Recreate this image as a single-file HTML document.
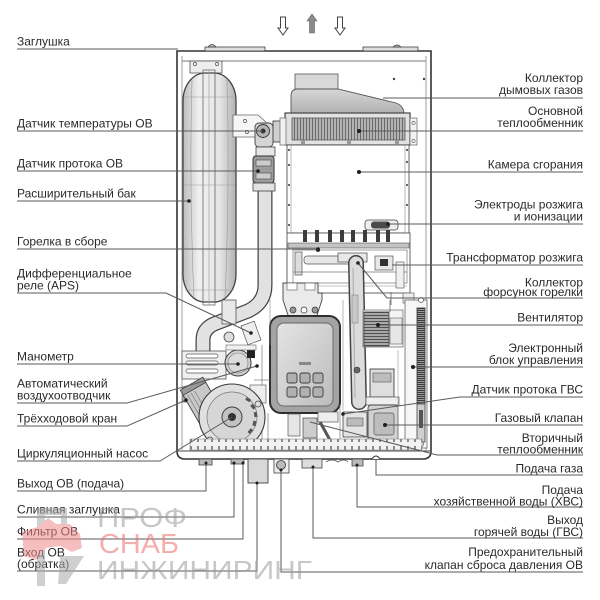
<!DOCTYPE html>
<html><head><meta charset="utf-8">
<style>
html,body{margin:0;padding:0;background:#fff;}
svg{display:block;}
text{font-family:"Liberation Sans",Arial,sans-serif;font-size:12px;fill:#2a2a2a;}
.wm{font-family:"Liberation Sans",Arial,sans-serif;}
</style></head><body>
<svg width="600" height="600" viewBox="0 0 600 600" xmlns="http://www.w3.org/2000/svg">
<defs>
 <linearGradient id="tank" x1="0" x2="1" y1="0" y2="0">
  <stop offset="0" stop-color="#bdbdbd"/><stop offset="0.3" stop-color="#f0f0f0"/><stop offset="0.7" stop-color="#e4e4e4"/><stop offset="1" stop-color="#b2b2b2"/>
 </linearGradient>
 <linearGradient id="hood" x1="0" x2="0" y1="0" y2="1">
  <stop offset="0" stop-color="#d6d6d6"/><stop offset="1" stop-color="#b0b0b0"/>
 </linearGradient>
 <linearGradient id="panel" x1="0" x2="1" y1="0" y2="1">
  <stop offset="0" stop-color="#e4e4e4"/><stop offset="1" stop-color="#bcbcbc"/>
 </linearGradient>
 <pattern id="fins" width="3" height="10" patternUnits="userSpaceOnUse">
  <rect width="3" height="10" fill="#b4b4b4"/><rect width="1" height="10" fill="#6a6a6a"/>
 </pattern>
 <pattern id="hatch" width="10" height="3" patternUnits="userSpaceOnUse">
  <rect width="10" height="3" fill="#a8a8a8"/><rect width="10" height="1" fill="#505050"/>
 </pattern>
 <pattern id="hatch2" width="8" height="2" patternUnits="userSpaceOnUse">
  <rect width="8" height="2" fill="#9a9a9a"/><rect width="8" height="1" fill="#3a3a3a"/>
 </pattern>
 <pattern id="ticks" width="7" height="12" patternUnits="userSpaceOnUse">
  <rect width="7" height="12" fill="#f2f2f2"/><rect x="1" y="2" width="2" height="8" fill="#8a8a8a"/>
 </pattern>
</defs>

<!-- top arrows -->
<path d="M280.5,17 H285.5 V28 H288 L283,35 L278,28 H280.5 Z" fill="#fff" stroke="#444" stroke-width="1"/>
<path d="M337.5,17 H342.5 V28 H345 L340,35 L335,28 H337.5 Z" fill="#fff" stroke="#444" stroke-width="1"/>
<path d="M309.5,33 V21 H307 L312,14 L317,21 H314.5 V33 Z" fill="#8a8a8a" stroke="#666" stroke-width="0.6"/>

<!-- casing -->
<path d="M177,51 H431 V451 Q431,459 423,459 H185 Q177,459 177,451 Z" fill="#fff" stroke="#333" stroke-width="1.6"/>
<line x1="182" y1="61" x2="426" y2="61" stroke="#777" stroke-width="0.9"/>
<line x1="182" y1="56" x2="182" y2="450" stroke="#888" stroke-width="0.8"/>
<line x1="426" y1="56" x2="426" y2="450" stroke="#888" stroke-width="0.8"/>
<line x1="178" y1="451" x2="430" y2="451" stroke="#444" stroke-width="1"/>
<rect x="205" y="47" width="60" height="4" fill="#ddd" stroke="#444" stroke-width="0.8"/>
<path d="M208,47 Q212,42 216,47 Z" fill="#bbb" stroke="#444" stroke-width="0.8"/>
<rect x="363" y="47" width="55" height="4" fill="#ddd" stroke="#444" stroke-width="0.8"/>
<path d="M393,47 Q397,43 401,47 Z" fill="#bbb" stroke="#444" stroke-width="0.8"/>
<circle cx="394" cy="79" r="1.2" fill="#444"/><circle cx="424" cy="79" r="1.2" fill="#444"/>

<!-- expansion tank -->
<rect x="190" y="61" width="32" height="12" fill="#eee" stroke="#555" stroke-width="0.8"/>
<circle cx="195" cy="64" r="1.6" fill="none" stroke="#555" stroke-width="0.7"/>
<circle cx="217" cy="64" r="1.6" fill="none" stroke="#555" stroke-width="0.7"/>
<rect x="183" y="73" width="53" height="229" rx="22" ry="28" fill="url(#tank)" stroke="#444" stroke-width="1.3"/>
<rect x="203" y="70" width="12" height="235" fill="none" stroke="#666" stroke-width="0.8"/>
<line x1="209" y1="70" x2="209" y2="305" stroke="#999" stroke-width="0.6"/>
<line x1="184" y1="97" x2="235" y2="97" stroke="#999" stroke-width="0.6"/>
<line x1="184" y1="185" x2="235" y2="185" stroke="#999" stroke-width="0.6"/>
<line x1="185" y1="290" x2="234" y2="290" stroke="#999" stroke-width="0.6"/>
<path d="M192,80 Q189,190 194,298" fill="none" stroke="#999" stroke-width="0.6"/>
<path d="M227,80 Q230,190 225,298" fill="none" stroke="#999" stroke-width="0.6"/>

<!-- bracket & elbow & flow sensor OV -->
<path d="M233,115 H258 L268,124 V137 H233 Z" fill="#f6f6f6" stroke="#666" stroke-width="0.8"/>
<circle cx="245" cy="121" r="1.6" fill="none" stroke="#555" stroke-width="0.7"/>
<circle cx="247" cy="132" r="1.6" fill="none" stroke="#555" stroke-width="0.7"/>
<path d="M265,186 V285 Q265,303 248,311 L214,324 Q203,329 203,340 V352" fill="none" stroke="#444" stroke-width="15"/>
<path d="M265,186 V285 Q265,303 248,311 L214,324 Q203,329 203,340 V352" fill="none" stroke="#e2e2e2" stroke-width="12.5"/>
<rect x="222" y="300" width="14" height="24" fill="#e8e8e8" stroke="#555" stroke-width="0.8"/>
<rect x="273" y="121" width="13" height="21" fill="#cfcfcf" stroke="#444" stroke-width="0.9"/>
<rect x="255" y="123" width="18" height="24" rx="4" fill="#d4d4d4" stroke="#444" stroke-width="0.9"/>
<circle cx="263" cy="131" r="6.5" fill="#b4b4b4" stroke="#333" stroke-width="0.9"/>
<circle cx="263" cy="131" r="2.5" fill="#333"/>
<rect x="256" y="147" width="19" height="9" fill="#e6e6e6" stroke="#444" stroke-width="0.8"/>
<rect x="253" y="156" width="21" height="27" rx="3" fill="#9c9c9c" stroke="#333" stroke-width="1"/>
<rect x="256" y="160" width="15" height="6" fill="#ccc" stroke="#444" stroke-width="0.6"/>
<rect x="256" y="173" width="15" height="6" fill="#ccc" stroke="#444" stroke-width="0.6"/>
<rect x="253" y="183" width="22" height="8" fill="#e2e2e2" stroke="#444" stroke-width="0.8"/>

<!-- flue hood & heat exchanger -->
<rect x="295" y="74" width="43" height="15" fill="#d8d8d8" stroke="#555" stroke-width="0.8"/>
<path d="M291,114 V96 Q291,89 298,89 H338 L396,103 Q404,106 404,114 Z" fill="url(#hood)" stroke="#555" stroke-width="0.9"/>
<rect x="285" y="113" width="125" height="32" fill="#e2e2e2" stroke="#444" stroke-width="1.2"/>
<rect x="292" y="118" width="113" height="22" fill="url(#fins)" stroke="#555" stroke-width="0.8"/>
<rect x="280" y="118" width="6" height="27" fill="#f2f2f2" stroke="#666" stroke-width="0.7"/>
<rect x="410" y="118" width="7" height="27" fill="#f2f2f2" stroke="#666" stroke-width="0.7"/>
<circle cx="413.5" cy="123" r="1.6" fill="none" stroke="#555" stroke-width="0.6"/>
<circle cx="413.5" cy="141" r="1.6" fill="none" stroke="#555" stroke-width="0.6"/>
<rect x="301" y="140" width="4" height="4" fill="#999"/><rect x="347" y="140" width="4" height="4" fill="#999"/><rect x="395" y="140" width="4" height="4" fill="#999"/>

<!-- combustion chamber -->
<rect x="287" y="145" width="122" height="88" fill="#fff" stroke="#555" stroke-width="0.9"/>
<line x1="291" y1="145" x2="291" y2="233" stroke="#888" stroke-width="0.6"/>
<line x1="405" y1="145" x2="405" y2="233" stroke="#888" stroke-width="0.6"/>
<g fill="#555">
<circle cx="289" cy="150" r="1.1"/><circle cx="289" cy="165" r="1.1"/><circle cx="289" cy="185" r="1.1"/><circle cx="289" cy="205" r="1.1"/><circle cx="289" cy="225" r="1.1"/>
<circle cx="407" cy="150" r="1.1"/><circle cx="407" cy="162" r="1.1"/><circle cx="407" cy="185" r="1.1"/><circle cx="407" cy="205" r="1.1"/>
</g>
<rect x="365" y="220" width="33" height="10" rx="3" fill="#eee" stroke="#444" stroke-width="0.8"/>
<rect x="371" y="221.5" width="19" height="7" rx="3" fill="#4a4a4a"/>

<!-- burner -->
<rect x="287" y="233" width="123" height="60" fill="#fff" stroke="#555" stroke-width="0.9"/>
<g fill="#3c3c3c">
<rect x="303" y="230" width="4" height="12"/><rect x="315" y="230" width="4" height="12"/><rect x="328" y="230" width="4" height="12"/><rect x="340" y="230" width="4" height="12"/><rect x="351" y="230" width="4" height="12"/><rect x="363" y="230" width="4" height="12"/><rect x="376" y="230" width="4" height="12"/><rect x="386" y="230" width="4" height="12"/>
</g>
<rect x="288" y="243" width="121" height="5" fill="#c4c4c4" stroke="#555" stroke-width="0.6"/>
<rect x="293" y="250" width="114" height="33" fill="none" stroke="#777" stroke-width="0.7"/>
<rect x="295" y="252" width="7" height="23" fill="#ddd" stroke="#555" stroke-width="0.7"/>
<rect x="304" y="256" width="48" height="8" rx="3" fill="#e6e6e6" stroke="#555" stroke-width="0.7"/>
<circle cx="318" cy="250" r="2" fill="#333"/>
<line x1="293" y1="272" x2="407" y2="272" stroke="#777" stroke-width="0.7"/>
<line x1="293" y1="286" x2="407" y2="286" stroke="#888" stroke-width="0.6"/>
<rect x="375" y="256" width="18" height="14" fill="#e8e8e8" stroke="#555" stroke-width="0.7"/>
<rect x="380" y="259" width="8" height="7" fill="#333"/>
<rect x="396" y="262" width="8" height="26" fill="#f0f0f0" stroke="#666" stroke-width="0.7"/>
<line x1="391" y1="292" x2="391" y2="305" stroke="#666" stroke-width="0.8"/>
<rect x="403" y="293" width="11" height="10" fill="#eee" stroke="#666" stroke-width="0.7"/>

<!-- control panel bracket -->
<path d="M283,283 H318 V293 H322 V300 L316,318 H289 L283,300 Z" fill="#eaeaea" stroke="#444" stroke-width="0.9"/>
<rect x="287" y="283" width="10" height="7" fill="#fff" stroke="#555" stroke-width="0.6"/>
<rect x="305" y="283" width="10" height="7" fill="#fff" stroke="#555" stroke-width="0.6"/>
<circle cx="293" cy="310" r="3" fill="#999" stroke="#333" stroke-width="0.7"/>
<circle cx="304" cy="310" r="3" fill="#fff" stroke="#333" stroke-width="0.7"/>
<circle cx="315" cy="310" r="3" fill="#999" stroke="#333" stroke-width="0.7"/>

<!-- control panel -->
<rect x="270" y="316" width="70" height="97" rx="11" fill="#a4a4a4" stroke="#2e2e2e" stroke-width="2"/>
<rect x="277" y="323" width="56" height="83" rx="7" fill="url(#panel)" stroke="#666" stroke-width="0.9"/>
<rect x="299" y="362" width="12" height="3" fill="#888"/>
<g fill="#b0b0b0" stroke="#3c3c3c" stroke-width="0.9">
<rect x="287" y="373" width="10" height="10" rx="2"/><rect x="300" y="373" width="10" height="10" rx="2"/><rect x="313" y="373" width="10" height="10" rx="2"/>
<rect x="287" y="387" width="10" height="10" rx="2"/><rect x="300" y="387" width="10" height="10" rx="2"/><rect x="313" y="387" width="10" height="10" rx="2"/>
</g>

<!-- slanted vertical pipe -->
<path d="M338,253 H367 V262 H338 Z" fill="#e8e8e8" stroke="#555" stroke-width="0.8"/>
<line x1="356" y1="263" x2="359" y2="402" stroke="#444" stroke-width="16" stroke-linecap="round"/>
<line x1="356" y1="263" x2="359" y2="402" stroke="#dcdcdc" stroke-width="13" stroke-linecap="round"/>
<line x1="353" y1="268" x2="355" y2="398" stroke="#aaa" stroke-width="1"/>
<circle cx="357" cy="370" r="3" fill="#666" stroke="#333" stroke-width="0.6"/>
<rect x="352" y="295" width="6" height="28" fill="#c8c8c8" stroke="#777" stroke-width="0.5"/>

<!-- fan -->
<rect x="363" y="310" width="40" height="37" fill="#f4f4f4" stroke="#666" stroke-width="0.7"/>
<rect x="364" y="312" width="25" height="34" fill="url(#hatch)" stroke="#444" stroke-width="0.8"/>
<rect x="390" y="318" width="12" height="26" fill="#e6e6e6" stroke="#666" stroke-width="0.6"/>
<line x1="390" y1="300" x2="390" y2="312" stroke="#666" stroke-width="0.8"/>

<!-- right board -->
<rect x="405" y="300" width="22" height="148" fill="#f6f6f6" stroke="#666" stroke-width="0.8"/>
<rect x="417" y="308" width="8" height="96" fill="url(#hatch2)" stroke="#333" stroke-width="0.8"/>
<rect x="417" y="404" width="8" height="38" fill="#cfcfcf" stroke="#444" stroke-width="0.8"/>
<rect x="419" y="410" width="4" height="18" fill="#555"/>
<circle cx="421" cy="300" r="2.5" fill="#fff" stroke="#555" stroke-width="0.7"/>
<circle cx="421" cy="444" r="2.5" fill="#fff" stroke="#555" stroke-width="0.7"/>

<!-- gas valve -->
<rect x="370" y="369" width="24" height="28" fill="#dedede" stroke="#444" stroke-width="0.9"/>
<rect x="373" y="373" width="18" height="9" fill="#bdbdbd" stroke="#555" stroke-width="0.6"/>
<rect x="366" y="397" width="33" height="8" fill="#eee" stroke="#555" stroke-width="0.7"/>
<rect x="368" y="405" width="30" height="40" rx="3" fill="#d2d2d2" stroke="#444" stroke-width="0.9"/>
<rect x="374" y="413" width="20" height="22" rx="2" fill="#bdbdbd" stroke="#555" stroke-width="0.7"/>
<rect x="343" y="412" width="24" height="25" fill="#e4e4e4" stroke="#444" stroke-width="0.8"/>
<rect x="347" y="418" width="16" height="8" fill="#bbb" stroke="#555" stroke-width="0.6"/>

<!-- manometer -->
<rect x="182" y="351" width="44" height="28" fill="#efefef" stroke="#555" stroke-width="0.8"/>
<rect x="186" y="354" width="32" height="4" rx="2" fill="#fff" stroke="#555" stroke-width="0.7"/>
<rect x="186" y="361" width="32" height="4" rx="2" fill="#fff" stroke="#555" stroke-width="0.7"/>
<rect x="186" y="369" width="32" height="4" rx="2" fill="#fff" stroke="#555" stroke-width="0.7"/>
<circle cx="238" cy="363" r="13" fill="#cfcfcf" stroke="#3a3a3a" stroke-width="1"/>
<circle cx="238" cy="363" r="10" fill="#dcdcdc" stroke="#777" stroke-width="0.6"/>
<rect x="247" y="350" width="8" height="8" fill="#222"/>
<rect x="226" y="345" width="30" height="5" fill="#f0f0f0" stroke="#666" stroke-width="0.6"/>
<circle cx="229" cy="337" r="5" fill="#ddd" stroke="#444" stroke-width="0.8"/>
<rect x="244" y="323" width="14" height="20" fill="#eee" stroke="#555" stroke-width="0.7" transform="rotate(-20 251 333)"/>

<!-- misc lower area -->
<line x1="262" y1="345" x2="262" y2="448" stroke="#777" stroke-width="0.7"/>
<line x1="268" y1="413" x2="268" y2="448" stroke="#777" stroke-width="0.7"/>
<line x1="340" y1="405" x2="340" y2="448" stroke="#777" stroke-width="0.7"/>
<line x1="254" y1="380" x2="270" y2="380" stroke="#777" stroke-width="0.7"/>
<line x1="270" y1="300" x2="270" y2="345" stroke="#888" stroke-width="0.6"/>
<line x1="343" y1="300" x2="343" y2="410" stroke="#888" stroke-width="0.6"/>
<line x1="398" y1="350" x2="398" y2="448" stroke="#999" stroke-width="0.6"/>
<rect x="250" y="385" width="16" height="18" fill="#eee" stroke="#666" stroke-width="0.7"/>
<rect x="288" y="414" width="12" height="22" fill="#e6e6e6" stroke="#555" stroke-width="0.7"/>
<rect x="303" y="418" width="14" height="20" fill="#ccc" stroke="#444" stroke-width="0.7"/>
<rect x="318" y="412" width="20" height="10" fill="#eee" stroke="#555" stroke-width="0.7"/>
<line x1="320" y1="422" x2="330" y2="440" stroke="#555" stroke-width="3"/>
<rect x="183" y="388" width="7" height="14" fill="#ddd" stroke="#444" stroke-width="0.7"/>

<!-- pump -->
<g transform="rotate(-30 205 407)">
<rect x="192" y="385" width="26" height="44" rx="2" fill="#c8c8c8" stroke="#3a3a3a" stroke-width="0.9"/>
<line x1="196" y1="388" x2="196" y2="426" stroke="#777" stroke-width="0.6"/>
<line x1="200" y1="388" x2="200" y2="426" stroke="#777" stroke-width="0.6"/>
<line x1="204" y1="388" x2="204" y2="426" stroke="#777" stroke-width="0.6"/>
<rect x="192" y="380" width="26" height="6" fill="#999" stroke="#333" stroke-width="0.7"/>
</g>
<circle cx="232" cy="417" r="33" fill="#e0e0e0" stroke="#3a3a3a" stroke-width="1.1"/>
<circle cx="232" cy="417" r="25" fill="#d6d6d6" stroke="#777" stroke-width="0.7"/>
<circle cx="232" cy="417" r="10" fill="#c2c2c2" stroke="#333" stroke-width="0.9"/>
<circle cx="232" cy="417" r="4" fill="#333"/>
<g fill="#555">
<rect x="246" y="398" width="5" height="3" transform="rotate(30 248 399)"/>
<rect x="251" y="405" width="5" height="3" transform="rotate(50 253 406)"/>
<rect x="254" y="413" width="5" height="3" transform="rotate(80 256 414)"/>
<rect x="253" y="422" width="5" height="3" transform="rotate(100 255 423)"/>
<rect x="249" y="430" width="5" height="3" transform="rotate(130 251 431)"/>
</g>
<circle cx="258" cy="404" r="3" fill="#ddd" stroke="#444" stroke-width="0.7"/>
<circle cx="210" cy="440" r="3" fill="#ddd" stroke="#444" stroke-width="0.7"/>

<!-- bottom parts row -->
<rect x="190" y="439" width="232" height="11" fill="url(#ticks)" stroke="#888" stroke-width="0.6"/>

<!-- bottom fittings -->
<rect x="199" y="459" width="13" height="6" fill="#bbb" stroke="#444" stroke-width="0.8"/>
<rect x="231" y="459" width="13" height="5" fill="#bbb" stroke="#444" stroke-width="0.8"/>
<rect x="248" y="459" width="20" height="24" fill="#d8d8d8" stroke="#444" stroke-width="0.9"/>
<rect x="274" y="459" width="15" height="14" fill="#eee" stroke="#444" stroke-width="0.8"/>
<circle cx="281" cy="465" r="4.5" fill="#bbb" stroke="#333" stroke-width="0.8"/>
<rect x="302" y="459" width="20" height="9" fill="#ddd" stroke="#444" stroke-width="0.8"/>
<path d="M326,462 Q332,458 338,462 Q344,458 348,462" fill="none" stroke="#555" stroke-width="0.8"/>
<rect x="352" y="459" width="11" height="7" fill="#bbb" stroke="#444" stroke-width="0.8"/>
<path d="M372,459 Q376,453 380,459" fill="#fff" stroke="#333" stroke-width="1"/>

<!-- connector lines -->
<g stroke="#5a5a5a" stroke-width="1" fill="none">
<polyline points="17,49 178,49"/>
<polyline points="17,131 263,131"/>
<polyline points="17,171 258,171"/>
<polyline points="17,201 189,201"/>
<polyline points="17,249 318,249"/>
<polyline points="17,293 166,293 251,333"/>
<polyline points="17,364 238,364"/>
<polyline points="17,403 127,403 257,366"/>
<polyline points="17,426 127,426 186,400"/>
<polyline points="17,461 160,461 232,417"/>
<polyline points="17,491 206,491 206,463"/>
<polyline points="17,517 234,517 234,463"/>
<polyline points="17,539 243,539 243,463"/>
<polyline points="17,571 257,571 257,483"/>
<polyline points="281,470 281,572 583,572"/>
<polyline points="313,467 313,538 583,538"/>
<polyline points="357,465 357,507 583,507"/>
<polyline points="376,459 376,475 583,475"/>
<polyline points="310,422 437,455 583,455"/>
<polyline points="343,414 460,397 583,397"/>
<polyline points="385,425 583,425"/>
<polyline points="413,367 583,367"/>
<polyline points="378,325 583,325"/>
<polyline points="358,263 387,298 583,298"/>
<polyline points="392,265 583,265"/>
<polyline points="388,224 583,224"/>
<polyline points="359,172 583,172"/>
<polyline points="359,131 583,131"/>
<polyline points="383,98 583,98"/>
</g>
<g fill="#1e1e1e">
<circle cx="189" cy="201" r="1.8"/><circle cx="258" cy="171" r="1.8"/><circle cx="318" cy="249" r="1.8"/>
<circle cx="238" cy="364" r="1.8"/><circle cx="257" cy="366" r="1.8"/><circle cx="186" cy="400" r="1.8"/>
<circle cx="206" cy="463" r="1.5"/><circle cx="234" cy="463" r="1.5"/><circle cx="243" cy="463" r="1.5"/><circle cx="257" cy="483" r="1.5"/>
<circle cx="313" cy="467" r="1.5"/><circle cx="357" cy="465" r="1.5"/><circle cx="281" cy="470" r="1.5"/>
<circle cx="359" cy="131" r="2"/><circle cx="359" cy="172" r="2"/><circle cx="388" cy="224" r="1.8"/>
<circle cx="358" cy="263" r="1.8"/><circle cx="378" cy="325" r="2"/><circle cx="413" cy="367" r="2"/><circle cx="385" cy="425" r="2"/>
<circle cx="343" cy="414" r="1.8"/><circle cx="251" cy="333" r="1.8"/>
</g>

<!-- left labels -->
<text x="17" y="45.5">Заглушка</text>
<text x="17" y="127.5">Датчик температуры ОВ</text>
<text x="17" y="167.5">Датчик протока ОВ</text>
<text x="17" y="197.5">Расширительный бак</text>
<text x="17" y="245.5">Горелка в сборе</text>
<text x="17" y="277.5">Дифференциальное</text>
<text x="17" y="289.5">реле (APS)</text>
<text x="17" y="360.5">Манометр</text>
<text x="17" y="387.5">Автоматический</text>
<text x="17" y="399.5">воздухоотводчик</text>
<text x="17" y="422.5">Трёхходовой кран</text>
<text x="17" y="457.5">Циркуляционный насос</text>
<text x="17" y="487.5">Выход ОВ (подача)</text>
<text x="17" y="513.5">Сливная заглушка</text>
<text x="17" y="535.5">Фильтр ОВ</text>
<text x="17" y="556.5">Вход ОВ</text>
<text x="17" y="568">(обратка)</text>

<!-- right labels -->
<g text-anchor="end">
<text x="583" y="82">Коллектор</text>
<text x="583" y="94">дымовых газов</text>
<text x="583" y="115">Основной</text>
<text x="583" y="127">теплообменник</text>
<text x="583" y="168.5">Камера сгорания</text>
<text x="583" y="208.5">Электроды розжига</text>
<text x="583" y="220.5">и ионизации</text>
<text x="583" y="261.5">Трансформатор розжига</text>
<text x="583" y="286.5">Коллектор</text>
<text x="583" y="296">форсунок горелки</text>
<text x="583" y="321.5">Вентилятор</text>
<text x="583" y="352">Электронный</text>
<text x="583" y="364">блок управления</text>
<text x="583" y="393.5">Датчик протока ГВС</text>
<text x="583" y="422">Газовый клапан</text>
<text x="583" y="442">Вторичный</text>
<text x="583" y="453.5">теплообменник</text>
<text x="583" y="472.5">Подача газа</text>
<text x="583" y="494">Подача</text>
<text x="583" y="505.5">хозяйственной воды (ХВС)</text>
<text x="583" y="524">Выход</text>
<text x="583" y="536">горячей воды (ГВС)</text>
<text x="583" y="556">Предохранительный</text>
<text x="583" y="569">клапан сброса давления ОВ</text>
</g>

<!-- watermark -->
<g opacity="0.55">
<rect x="37" y="508" width="8" height="78" fill="#a8a8a8"/>
<rect x="37" y="508" width="30" height="7" fill="#a8a8a8"/>
<rect x="61" y="508" width="6" height="22" fill="#a8a8a8"/>
<path d="M60,556 L84,556 L66,584 L58,584 Z" fill="#a8a8a8"/>
<path d="M22,532 L40,526 L48,518 L56,524 L70,524 L80,534 L82,548 L72,552 L60,546 L46,548 L36,560 L24,556 Z" fill="#ef8a8a"/>
<text class="wm" x="97" y="527" textLength="90" lengthAdjust="spacingAndGlyphs" style="fill:#9a9a9a;font-size:28px">ПРОФ</text>
<text class="wm" x="99" y="553" textLength="80" lengthAdjust="spacingAndGlyphs" style="fill:#ee6d6d;font-size:28px">СНАБ</text>
<text class="wm" x="97" y="579" textLength="215" lengthAdjust="spacingAndGlyphs" style="fill:#9a9a9a;font-size:26px">ИНЖИНИРИНГ</text>
</g>
</svg>
</body></html>
